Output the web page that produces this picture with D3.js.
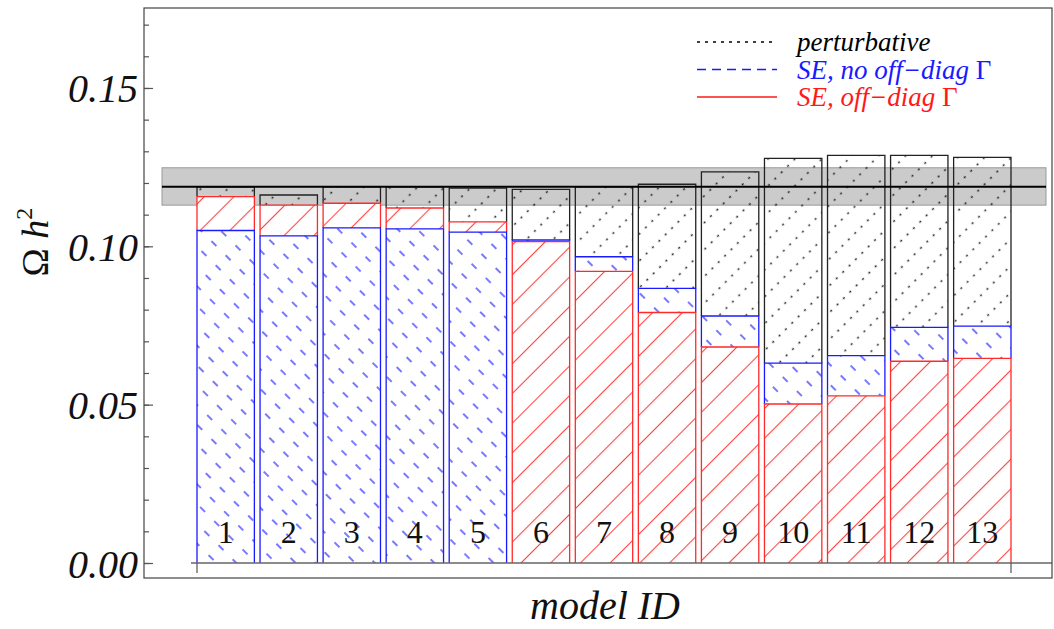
<!DOCTYPE html>
<html lang="en">
<head>
    <meta charset="UTF-8">
    <title>Relic density per model</title>
    <script src="https://d3js.org/d3.v7.min.js"></script>
    <style>
        body { margin: 0; background: #fff; }
        text { font-family: "Liberation Serif", "Times New Roman", serif; }
        .frame { fill: none; stroke: #444; stroke-width: 1.2px; }
        .tick line { stroke: #555; stroke-width: 1.2px; }
    </style>
</head>
<body>
    <script>
        // data
        var models = [1, 2, 3, 4, 5, 6, 7, 8, 9, 10, 11, 12, 13];
        var perturbative = [0.1188, 0.1162, 0.1188, 0.1188, 0.1184, 0.1180, 0.1188, 0.1196, 0.1235, 0.1278, 0.1287, 0.1287, 0.1281];
        var seNoOffDiag  = [0.1050, 0.1033, 0.1058, 0.1055, 0.1045, 0.1020, 0.0967, 0.0867, 0.0780, 0.0631, 0.0655, 0.0744, 0.0748];
        var seOffDiag    = [0.1157, 0.1130, 0.1136, 0.1121, 0.1077, 0.1015, 0.0921, 0.0791, 0.0682, 0.0502, 0.0528, 0.0637, 0.0646];
        var planckBand = [0.1130, 0.1248];
        var planckCentral = 0.1188;
        var majorTicks = [0, 0.05, 0.10, 0.15];
        var minorTicks = d3.range(0, 0.1751, 0.01);

        var width = 1054, height = 629;
        var frame = {left: 144, top: 8, right: 1052, bottom: 578};

        var svg = d3.select("body").append("svg")
            .attr("width", width)
            .attr("height", height);

        var y = d3.scaleLinear().domain([0, 0.175]).range([563, 8.8]);
        var x = d3.scaleBand().domain(models).range([197, 1011]).paddingInner(0.09).paddingOuter(0);

        // hatch patterns
        var defs = svg.append("defs");
        function hatch(id, color, w, h, angle, dashLen, sw, op) {
            var p = defs.append("pattern")
                .attr("id", id)
                .attr("patternUnits", "userSpaceOnUse")
                .attr("width", w).attr("height", h)
                .attr("patternTransform", "rotate(" + angle + ")");
            p.append("line")
                .attr("x1", w / 2).attr("y1", 0)
                .attr("x2", w / 2).attr("y2", dashLen)
                .attr("stroke", color)
                .attr("stroke-width", sw)
                .attr("stroke-opacity", op);
        }
        hatch("hRed", "#ff0000", 21, 20, 45, 20, 1.1, 0.72);
        hatch("hBlue", "#0000ff", 14, 20, -45, 7, 1.4, 0.75);
        hatch("hBlack", "#000", 19, 9, 45, 2.2, 1.5, 0.8);

        // Planck band
        svg.append("rect")
            .attr("x", 162).attr("width", 1046 - 162)
            .attr("y", y(planckBand[1]))
            .attr("height", y(planckBand[0]) - y(planckBand[1]))
            .attr("fill", "#cbcbcb")
            .attr("stroke", "#999")
            .attr("stroke-width", 1);

        // bars: each model is split into stacked segments, tallest result on top
        var series = [
            {key: "pert", vals: perturbative, stroke: "#222", pat: "hBlack", white: false},
            {key: "noOff", vals: seNoOffDiag, stroke: "#1a1aff", pat: "hBlue", white: true},
            {key: "off", vals: seOffDiag, stroke: "#ff2a2a", pat: "hRed", white: true}
        ];

        models.forEach(function(m, i) {
            var layers = series.map(function(s) { return {s: s, v: s.vals[i]}; })
                .sort(function(a, b) { return b.v - a.v; });
            var g = svg.append("g");
            var bx = x(m), bw = x.bandwidth();
            layers.forEach(function(l, k) {
                var top = y(l.v);
                var bottom = k < layers.length - 1 ? y(layers[k + 1].v) : y(0);
                if (l.s.white) {
                    g.append("rect").attr("x", bx).attr("y", top).attr("width", bw).attr("height", bottom - top)
                        .attr("fill", "#fff");
                }
                g.append("rect").attr("x", bx).attr("y", top).attr("width", bw).attr("height", bottom - top)
                    .attr("fill", "url(#" + l.s.pat + ")");
                g.append("path")
                    .attr("d", "M" + bx + "," + bottom + "V" + top + "H" + (bx + bw) + "V" + bottom)
                    .attr("fill", "none")
                    .attr("stroke", l.s.stroke)
                    .attr("stroke-width", 1.3);
            });
            g.append("text")
                .attr("x", bx + bw / 2)
                .attr("y", 543)
                .attr("text-anchor", "middle")
                .attr("font-size", 32)
                .attr("fill", "#111")
                .text(m);
        });

        // Planck central value
        svg.append("line")
            .attr("x1", 162).attr("x2", 1046)
            .attr("y1", y(planckCentral)).attr("y2", y(planckCentral))
            .attr("stroke", "#000").attr("stroke-width", 2);

        // horizontal axis line with ticks at the ends of the bar group
        svg.append("line")
            .attr("x1", 191).attr("x2", frame.right)
            .attr("y1", y(0)).attr("y2", y(0))
            .attr("stroke", "#666").attr("stroke-width", 1.3);
        x.range().forEach(function(px) {
            svg.append("line")
                .attr("x1", px).attr("x2", px)
                .attr("y1", y(0)).attr("y2", y(0) + 10)
                .attr("stroke", "#555").attr("stroke-width", 1.2);
        });

        // left axis, ticks point inward
        svg.append("g")
            .attr("transform", "translate(" + frame.left + ",0)")
            .call(d3.axisLeft(y).tickValues(minorTicks).tickSize(-5).tickFormat(""))
            .call(function(g) { g.select(".domain").remove(); });
        svg.append("g")
            .attr("transform", "translate(" + frame.left + ",0)")
            .call(d3.axisLeft(y).tickValues(majorTicks).tickSize(-9).tickPadding(6).tickFormat(d3.format(".2f")))
            .call(function(g) { g.select(".domain").remove(); })
            .call(function(g) {
                g.selectAll("text")
                    .attr("font-family", "Liberation Serif")
                    .attr("font-style", "italic")
                    .attr("font-size", 40)
                    .attr("fill", "#111")
                    .attr("dy", "0.35em");
            });

        // frame
        svg.append("rect").attr("class", "frame")
            .attr("x", frame.left).attr("y", frame.top)
            .attr("width", frame.right - frame.left)
            .attr("height", frame.bottom - frame.top);

        // axis titles
        svg.append("text")
            .attr("x", 605).attr("y", 619)
            .attr("text-anchor", "middle")
            .attr("font-size", 40)
            .attr("font-style", "italic")
            .attr("fill", "#111")
            .text("model ID");

        var yt = svg.append("text")
            .attr("transform", "translate(48,242) rotate(-90)")
            .attr("text-anchor", "middle")
            .attr("font-size", 38)
            .attr("fill", "#111");
        yt.append("tspan").text("Ω ");
        yt.append("tspan").attr("font-style", "italic").text("h");
        yt.append("tspan").attr("font-size", 24).attr("dy", -16).text("2");

        // legend
        var legend = [
            {label: "perturbative", gamma: false, color: "#000", dash: "3,5"},
            {label: "SE, no off\u2212diag ", gamma: true, color: "#1a1aff", dash: "9,6"},
            {label: "SE, off\u2212diag ", gamma: true, color: "#ff1a1a", dash: null}
        ];
        legend.forEach(function(d, i) {
            var ly = 42 + i * 27.5;
            svg.append("line")
                .attr("x1", 697).attr("x2", 777)
                .attr("y1", ly).attr("y2", ly)
                .attr("stroke", d.color)
                .attr("stroke-width", 1.4)
                .attr("stroke-dasharray", d.dash);
            var t = svg.append("text")
                .attr("x", 797).attr("y", ly + 9)
                .attr("font-size", 27)
                .attr("fill", d.color);
            t.append("tspan").attr("font-style", "italic").text(d.label);
            if (d.gamma) t.append("tspan").text("Γ");
        });
    </script>
</body>
</html>
